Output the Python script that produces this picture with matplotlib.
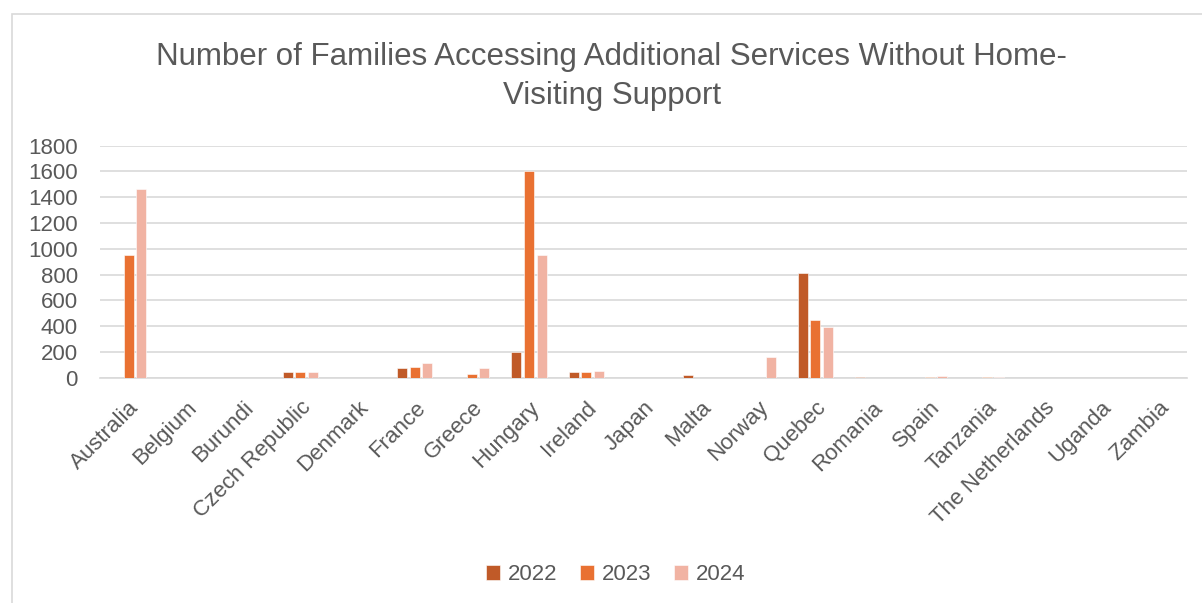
import matplotlib.pyplot as plt
from matplotlib.patches import Rectangle
import numpy as np

countries = ["Australia", "Belgium", "Burundi", "Czech Republic", "Denmark",
             "France", "Greece", "Hungary", "Ireland", "Japan", "Malta",
             "Norway", "Quebec", "Romania", "Spain", "Tanzania",
             "The Netherlands", "Uganda", "Zambia"]
years = ["2022", "2023", "2024"]
vals_2022 = [0, 0, 0, 46, 0, 78, 0, 198, 41, 0, 18, 0, 810, 3, 0, 0, 0, 0, 0]
vals_2023 = [955, 0, 0, 46, 0, 83, 31, 1600, 45, 0, 0, 0, 450, 0, 8, 6, 0, 0, 0]
vals_2024 = [1465, 0, 0, 41, 0, 114, 72, 950, 52, 0, 0, 160, 396, 0, 12, 6, 0, 0, 0]
colors = ["#C05A28", "#E97132", "#F1B3A3"]
txt = "#595959"

plt.rcParams['font.family'] = ['Liberation Sans', 'DejaVu Sans']

fig = plt.figure(figsize=(12.02, 6.03), dpi=100)
# chart frame
fig.patches.append(Rectangle((12 / 1202, -0.01), 1.0, 1 - 14 / 603 + 0.01,
                             transform=fig.transFigure, fill=False,
                             edgecolor="#D9D9D9", linewidth=1.2))

ax = fig.add_axes([100 / 1202, 1 - 377.7 / 603, 1087 / 1202, 232 / 603])
x = np.arange(len(countries))
w = 0.175
off = 0.22
for i, (vals, yr) in enumerate(zip([vals_2022, vals_2023, vals_2024], years)):
    ax.bar(x + (i - 1) * off, vals, width=w, color=colors[i], label=yr,
           edgecolor="white", linewidth=0.4, zorder=3)

ax.set_xlim(-0.5, len(countries) - 0.5)
ax.set_ylim(0, 1800)
ax.set_yticks(range(0, 1801, 200))
ax.yaxis.grid(True, color="#D9D9D9", linewidth=1.2, zorder=0)
ax.set_axisbelow(True)
for s in ["top", "right", "left"]:
    ax.spines[s].set_visible(False)
ax.spines["bottom"].set_color("#D9D9D9")
ax.spines["bottom"].set_linewidth(1.2)
ax.tick_params(length=0, labelsize=16, labelcolor=txt)
ax.tick_params(axis="y", pad=16)
ax.set_xticks(x)
ax.set_xticklabels(countries, rotation=45, ha="right", rotation_mode="anchor")
ax.tick_params(axis="x", pad=14)

fig.text(0.509, 0.873, "Number of Families Accessing Additional Services Without Home-\nVisiting Support",
         ha="center", va="center", fontsize=22.5, color=txt, linespacing=1.4)

fig.legend(loc="center", bbox_to_anchor=(0.512, 0.047), ncol=3, frameon=False,
           fontsize=16, labelcolor=txt, handlelength=0.65, handleheight=0.65,
           handletextpad=0.35, columnspacing=1.0)

fig.savefig("out.png", dpi=100)
